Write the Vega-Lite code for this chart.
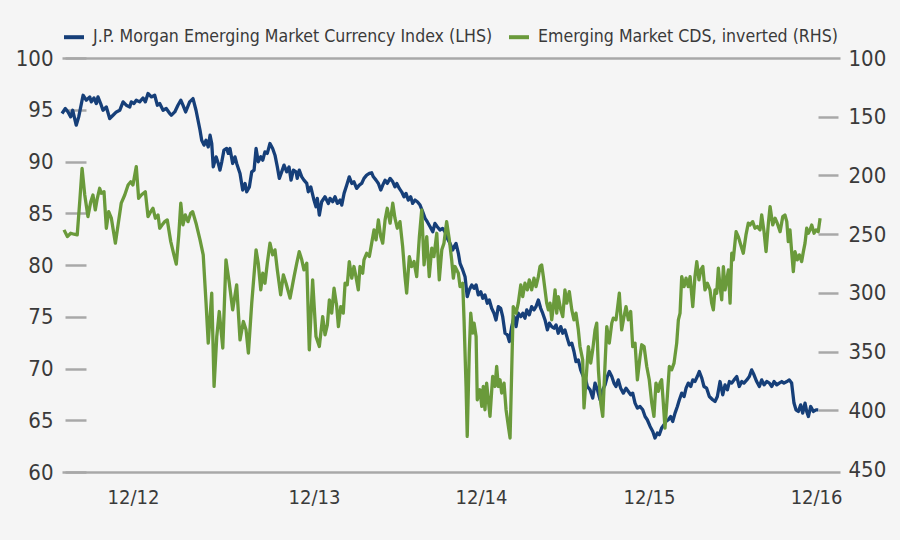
{
  "$schema": "https://vega.github.io/schema/vega-lite/v6.json",
  "width": 778,
  "height": 414,
  "autosize": {"type": "none"},
  "padding": {"left": 62, "top": 58, "right": 60, "bottom": 68},
  "background": "#f5f5f5",
  "config": {
    "view": {"stroke": null},
    "font": "DejaVu Sans Condensed, DejaVu Sans",
    "axis": {"labelFont": "DejaVu Sans Condensed, DejaVu Sans", "labelFontSize": 22, "labelColor": "#3a3a3a", "title": null},
    "legend": {"labelFont": "DejaVu Sans Condensed, DejaVu Sans"}
  },
  "datasets": {
    "jpm": [
      {"year":2012.411,"index":94.64},{"year":2012.431,"index":95.12},{"year":2012.447,"index":94.79},{"year":2012.463,"index":94.31},{"year":2012.475,"index":94.95},{"year":2012.496,"index":93.51},{"year":2012.511,"index":94.31},{"year":2012.537,"index":96.40},{"year":2012.556,"index":95.92},{"year":2012.577,"index":96.24},{"year":2012.586,"index":95.76},{"year":2012.602,"index":96.14},{"year":2012.616,"index":95.60},{"year":2012.626,"index":96.24},{"year":2012.642,"index":95.60},{"year":2012.656,"index":94.95},{"year":2012.676,"index":95.27},{"year":2012.696,"index":94.15},{"year":2012.716,"index":94.47},{"year":2012.736,"index":94.79},{"year":2012.756,"index":94.95},{"year":2012.776,"index":95.76},{"year":2012.795,"index":95.44},{"year":2012.816,"index":95.27},{"year":2012.825,"index":95.76},{"year":2012.841,"index":95.60},{"year":2012.855,"index":95.92},{"year":2012.875,"index":95.76},{"year":2012.895,"index":96.14},{"year":2012.909,"index":95.76},{"year":2012.925,"index":96.57},{"year":2012.945,"index":96.24},{"year":2012.965,"index":96.40},{"year":2012.981,"index":95.44},{"year":2012.995,"index":95.60},{"year":2013.015,"index":94.95},{"year":2013.034,"index":95.12},{"year":2013.055,"index":94.64},{"year":2013.064,"index":94.47},{"year":2013.085,"index":94.79},{"year":2013.104,"index":95.44},{"year":2013.121,"index":95.92},{"year":2013.134,"index":95.44},{"year":2013.150,"index":94.79},{"year":2013.174,"index":95.76},{"year":2013.194,"index":96.08},{"year":2013.212,"index":94.95},{"year":2013.236,"index":93.02},{"year":2013.246,"index":92.06},{"year":2013.260,"index":91.58},{"year":2013.272,"index":92.06},{"year":2013.285,"index":91.41},{"year":2013.296,"index":92.54},{"year":2013.306,"index":91.74},{"year":2013.315,"index":89.48},{"year":2013.332,"index":90.45},{"year":2013.345,"index":89.81},{"year":2013.355,"index":89.17},{"year":2013.366,"index":89.97},{"year":2013.379,"index":91.10},{"year":2013.395,"index":91.26},{"year":2013.405,"index":90.78},{"year":2013.415,"index":91.26},{"year":2013.431,"index":89.81},{"year":2013.445,"index":90.45},{"year":2013.455,"index":89.81},{"year":2013.475,"index":88.85},{"year":2013.491,"index":87.24},{"year":2013.505,"index":87.88},{"year":2013.515,"index":87.07},{"year":2013.531,"index":87.55},{"year":2013.545,"index":89.00},{"year":2013.559,"index":89.17},{"year":2013.571,"index":91.26},{"year":2013.584,"index":89.97},{"year":2013.599,"index":90.45},{"year":2013.611,"index":90.13},{"year":2013.624,"index":90.93},{"year":2013.638,"index":90.78},{"year":2013.654,"index":91.74},{"year":2013.670,"index":91.26},{"year":2013.684,"index":90.61},{"year":2013.698,"index":89.48},{"year":2013.710,"index":88.37},{"year":2013.724,"index":89.00},{"year":2013.738,"index":89.65},{"year":2013.754,"index":89.00},{"year":2013.768,"index":89.48},{"year":2013.780,"index":88.20},{"year":2013.794,"index":89.17},{"year":2013.810,"index":89.00},{"year":2013.817,"index":88.37},{"year":2013.829,"index":89.17},{"year":2013.844,"index":88.52},{"year":2013.857,"index":88.20},{"year":2013.874,"index":87.88},{"year":2013.883,"index":87.07},{"year":2013.898,"index":87.55},{"year":2013.917,"index":86.27},{"year":2013.929,"index":85.63},{"year":2013.937,"index":86.44},{"year":2013.949,"index":84.82},{"year":2013.963,"index":86.11},{"year":2013.983,"index":86.59},{"year":2014.003,"index":85.95},{"year":2014.013,"index":86.44},{"year":2014.029,"index":86.11},{"year":2014.043,"index":86.59},{"year":2014.057,"index":85.95},{"year":2014.073,"index":86.27},{"year":2014.083,"index":85.79},{"year":2014.097,"index":86.92},{"year":2014.113,"index":87.72},{"year":2014.128,"index":88.52},{"year":2014.143,"index":87.88},{"year":2014.156,"index":88.04},{"year":2014.172,"index":87.40},{"year":2014.188,"index":87.72},{"year":2014.202,"index":87.88},{"year":2014.216,"index":88.37},{"year":2014.232,"index":88.68},{"year":2014.248,"index":88.85},{"year":2014.262,"index":88.91},{"year":2014.272,"index":88.52},{"year":2014.288,"index":88.20},{"year":2014.302,"index":87.88},{"year":2014.316,"index":87.24},{"year":2014.328,"index":87.72},{"year":2014.342,"index":88.20},{"year":2014.355,"index":87.88},{"year":2014.372,"index":88.37},{"year":2014.388,"index":88.04},{"year":2014.401,"index":87.55},{"year":2014.412,"index":87.88},{"year":2014.427,"index":87.40},{"year":2014.441,"index":87.07},{"year":2014.455,"index":86.59},{"year":2014.467,"index":86.92},{"year":2014.481,"index":86.27},{"year":2014.495,"index":86.59},{"year":2014.507,"index":85.95},{"year":2014.521,"index":86.27},{"year":2014.535,"index":86.11},{"year":2014.551,"index":85.79},{"year":2014.567,"index":85.14},{"year":2014.581,"index":84.51},{"year":2014.594,"index":84.18},{"year":2014.611,"index":83.70},{"year":2014.627,"index":83.21},{"year":2014.640,"index":84.02},{"year":2014.654,"index":83.70},{"year":2014.670,"index":83.38},{"year":2014.686,"index":83.54},{"year":2014.700,"index":83.21},{"year":2014.714,"index":82.58},{"year":2014.730,"index":82.09},{"year":2014.746,"index":81.45},{"year":2014.760,"index":81.93},{"year":2014.766,"index":82.09},{"year":2014.780,"index":81.13},{"year":2014.790,"index":80.16},{"year":2014.806,"index":79.52},{"year":2014.820,"index":78.87},{"year":2014.833,"index":76.94},{"year":2014.845,"index":77.59},{"year":2014.860,"index":78.07},{"year":2014.874,"index":77.75},{"year":2014.886,"index":78.07},{"year":2014.899,"index":77.11},{"year":2014.914,"index":77.42},{"year":2014.926,"index":76.79},{"year":2014.939,"index":77.11},{"year":2014.953,"index":76.31},{"year":2014.965,"index":76.62},{"year":2014.979,"index":75.82},{"year":2014.993,"index":75.34},{"year":2015.005,"index":74.69},{"year":2015.019,"index":75.98},{"year":2015.033,"index":75.82},{"year":2015.045,"index":75.01},{"year":2015.059,"index":73.41},{"year":2015.073,"index":73.25},{"year":2015.085,"index":72.60},{"year":2015.099,"index":74.05},{"year":2015.113,"index":75.01},{"year":2015.125,"index":74.05},{"year":2015.138,"index":75.34},{"year":2015.153,"index":75.01},{"year":2015.165,"index":75.34},{"year":2015.178,"index":74.86},{"year":2015.189,"index":75.66},{"year":2015.204,"index":75.18},{"year":2015.218,"index":75.98},{"year":2015.232,"index":75.66},{"year":2015.244,"index":75.98},{"year":2015.258,"index":76.62},{"year":2015.272,"index":75.82},{"year":2015.284,"index":75.34},{"year":2015.298,"index":74.69},{"year":2015.312,"index":73.73},{"year":2015.324,"index":74.38},{"year":2015.338,"index":74.05},{"year":2015.352,"index":73.89},{"year":2015.364,"index":74.21},{"year":2015.377,"index":73.41},{"year":2015.392,"index":74.05},{"year":2015.404,"index":73.41},{"year":2015.417,"index":73.73},{"year":2015.431,"index":72.93},{"year":2015.443,"index":72.28},{"year":2015.458,"index":72.45},{"year":2015.471,"index":71.64},{"year":2015.483,"index":70.67},{"year":2015.497,"index":70.83},{"year":2015.511,"index":69.87},{"year":2015.527,"index":69.22},{"year":2015.537,"index":69.22},{"year":2015.551,"index":68.26},{"year":2015.567,"index":67.94},{"year":2015.583,"index":67.14},{"year":2015.597,"index":68.59},{"year":2015.611,"index":67.94},{"year":2015.627,"index":66.98},{"year":2015.643,"index":67.94},{"year":2015.657,"index":68.42},{"year":2015.670,"index":69.22},{"year":2015.682,"index":69.71},{"year":2015.697,"index":69.22},{"year":2015.710,"index":68.59},{"year":2015.722,"index":68.26},{"year":2015.736,"index":68.90},{"year":2015.750,"index":68.10},{"year":2015.766,"index":67.62},{"year":2015.782,"index":68.10},{"year":2015.796,"index":67.78},{"year":2015.810,"index":67.46},{"year":2015.822,"index":67.62},{"year":2015.836,"index":66.66},{"year":2015.850,"index":66.17},{"year":2015.866,"index":66.33},{"year":2015.882,"index":66.01},{"year":2015.896,"index":65.36},{"year":2015.909,"index":65.05},{"year":2015.926,"index":64.40},{"year":2015.942,"index":63.92},{"year":2015.955,"index":63.28},{"year":2015.969,"index":63.76},{"year":2015.981,"index":63.60},{"year":2015.995,"index":64.25},{"year":2016.009,"index":64.56},{"year":2016.021,"index":64.88},{"year":2016.035,"index":65.05},{"year":2016.049,"index":65.36},{"year":2016.061,"index":64.88},{"year":2016.075,"index":65.69},{"year":2016.089,"index":66.33},{"year":2016.101,"index":66.98},{"year":2016.115,"index":67.62},{"year":2016.129,"index":67.29},{"year":2016.141,"index":68.10},{"year":2016.154,"index":68.59},{"year":2016.169,"index":68.26},{"year":2016.181,"index":68.90},{"year":2016.194,"index":68.74},{"year":2016.208,"index":69.22},{"year":2016.220,"index":69.71},{"year":2016.235,"index":69.07},{"year":2016.248,"index":68.26},{"year":2016.264,"index":68.10},{"year":2016.280,"index":67.29},{"year":2016.300,"index":66.98},{"year":2016.314,"index":66.81},{"year":2016.328,"index":67.29},{"year":2016.344,"index":68.74},{"year":2016.360,"index":67.46},{"year":2016.374,"index":68.42},{"year":2016.388,"index":67.94},{"year":2016.400,"index":68.74},{"year":2016.414,"index":68.59},{"year":2016.428,"index":68.90},{"year":2016.444,"index":69.22},{"year":2016.459,"index":68.26},{"year":2016.474,"index":68.74},{"year":2016.487,"index":68.59},{"year":2016.504,"index":68.90},{"year":2016.519,"index":69.22},{"year":2016.533,"index":69.87},{"year":2016.547,"index":69.39},{"year":2016.563,"index":68.74},{"year":2016.579,"index":68.26},{"year":2016.593,"index":68.90},{"year":2016.607,"index":68.42},{"year":2016.623,"index":68.74},{"year":2016.639,"index":68.59},{"year":2016.653,"index":68.26},{"year":2016.667,"index":68.74},{"year":2016.683,"index":68.42},{"year":2016.698,"index":68.59},{"year":2016.713,"index":68.74},{"year":2016.726,"index":68.59},{"year":2016.743,"index":68.74},{"year":2016.758,"index":68.90},{"year":2016.772,"index":68.59},{"year":2016.786,"index":66.66},{"year":2016.798,"index":66.01},{"year":2016.812,"index":65.85},{"year":2016.826,"index":66.49},{"year":2016.838,"index":65.69},{"year":2016.852,"index":66.66},{"year":2016.862,"index":65.85},{"year":2016.872,"index":65.36},{"year":2016.886,"index":66.33},{"year":2016.902,"index":65.85},{"year":2016.918,"index":66.01},{"year":2016.931,"index":66.01}
    ],
    "cds": [
      {"year":2012.423,"cds":246.3},{"year":2012.443,"cds":252.0},{"year":2012.463,"cds":249.2},{"year":2012.483,"cds":250.0},{"year":2012.502,"cds":250.6},{"year":2012.517,"cds":222.3},{"year":2012.531,"cds":193.9},{"year":2012.547,"cds":216.6},{"year":2012.566,"cds":235.0},{"year":2012.583,"cds":222.3},{"year":2012.596,"cds":216.6},{"year":2012.610,"cds":229.3},{"year":2012.622,"cds":219.4},{"year":2012.636,"cds":210.9},{"year":2012.646,"cds":215.1},{"year":2012.662,"cds":213.8},{"year":2012.676,"cds":244.9},{"year":2012.690,"cds":230.8},{"year":2012.706,"cds":236.4},{"year":2012.730,"cds":257.6},{"year":2012.746,"cds":242.1},{"year":2012.765,"cds":223.6},{"year":2012.786,"cds":216.6},{"year":2012.806,"cds":208.1},{"year":2012.822,"cds":205.3},{"year":2012.835,"cds":208.1},{"year":2012.855,"cds":192.5},{"year":2012.869,"cds":219.4},{"year":2012.885,"cds":216.6},{"year":2012.909,"cds":213.8},{"year":2012.925,"cds":235.0},{"year":2012.941,"cds":230.8},{"year":2012.955,"cds":227.9},{"year":2012.969,"cds":236.4},{"year":2012.985,"cds":233.6},{"year":2012.995,"cds":244.9},{"year":2013.009,"cds":242.1},{"year":2013.025,"cds":239.3},{"year":2013.040,"cds":237.8},{"year":2013.061,"cds":256.3},{"year":2013.080,"cds":267.6},{"year":2013.094,"cds":275.5},{"year":2013.109,"cds":250.6},{"year":2013.121,"cds":223.6},{"year":2013.134,"cds":242.1},{"year":2013.148,"cds":233.6},{"year":2013.164,"cds":239.3},{"year":2013.180,"cds":232.1},{"year":2013.192,"cds":230.8},{"year":2013.212,"cds":240.6},{"year":2013.236,"cds":254.8},{"year":2013.255,"cds":267.6},{"year":2013.272,"cds":308.7},{"year":2013.285,"cds":342.7},{"year":2013.306,"cds":300.2},{"year":2013.320,"cds":379.6},{"year":2013.336,"cds":337.1},{"year":2013.351,"cds":315.8},{"year":2013.372,"cds":346.9},{"year":2013.391,"cds":271.8},{"year":2013.411,"cds":291.7},{"year":2013.431,"cds":314.4},{"year":2013.455,"cds":293.1},{"year":2013.475,"cds":339.9},{"year":2013.495,"cds":324.3},{"year":2013.511,"cds":331.4},{"year":2013.525,"cds":351.2},{"year":2013.545,"cds":308.7},{"year":2013.571,"cds":263.3},{"year":2013.584,"cds":274.7},{"year":2013.599,"cds":297.4},{"year":2013.611,"cds":283.2},{"year":2013.624,"cds":291.7},{"year":2013.638,"cds":274.7},{"year":2013.654,"cds":257.6},{"year":2013.670,"cds":267.6},{"year":2013.684,"cds":263.3},{"year":2013.698,"cds":280.4},{"year":2013.718,"cds":301.6},{"year":2013.734,"cds":284.6},{"year":2013.750,"cds":291.7},{"year":2013.774,"cds":304.4},{"year":2013.798,"cds":286.1},{"year":2013.814,"cds":274.7},{"year":2013.829,"cds":264.8},{"year":2013.844,"cds":271.8},{"year":2013.857,"cds":280.4},{"year":2013.874,"cds":274.7},{"year":2013.889,"cds":348.4},{"year":2013.909,"cds":288.9},{"year":2013.929,"cds":337.1},{"year":2013.949,"cds":345.6},{"year":2013.969,"cds":320.1},{"year":2013.983,"cds":335.6},{"year":2013.997,"cds":327.1},{"year":2014.009,"cds":305.9},{"year":2014.023,"cds":317.2},{"year":2014.037,"cds":295.9},{"year":2014.053,"cds":311.6},{"year":2014.063,"cds":328.6},{"year":2014.077,"cds":311.6},{"year":2014.092,"cds":317.2},{"year":2014.103,"cds":291.7},{"year":2014.116,"cds":293.1},{"year":2014.128,"cds":273.3},{"year":2014.143,"cds":287.4},{"year":2014.156,"cds":277.5},{"year":2014.168,"cds":286.1},{"year":2014.182,"cds":297.4},{"year":2014.192,"cds":277.5},{"year":2014.208,"cds":283.2},{"year":2014.216,"cds":271.8},{"year":2014.232,"cds":266.2},{"year":2014.248,"cds":269.0},{"year":2014.262,"cds":257.6},{"year":2014.276,"cds":246.3},{"year":2014.288,"cds":254.8},{"year":2014.302,"cds":237.8},{"year":2014.316,"cds":252.0},{"year":2014.328,"cds":257.6},{"year":2014.342,"cds":237.8},{"year":2014.355,"cds":227.9},{"year":2014.372,"cds":240.6},{"year":2014.388,"cds":223.6},{"year":2014.401,"cds":236.4},{"year":2014.415,"cds":244.9},{"year":2014.431,"cds":239.3},{"year":2014.447,"cds":260.5},{"year":2014.461,"cds":286.1},{"year":2014.471,"cds":300.2},{"year":2014.487,"cds":269.0},{"year":2014.501,"cds":277.5},{"year":2014.515,"cds":273.3},{"year":2014.531,"cds":286.1},{"year":2014.547,"cds":252.0},{"year":2014.561,"cds":229.3},{"year":2014.575,"cds":276.1},{"year":2014.591,"cds":252.0},{"year":2014.606,"cds":286.1},{"year":2014.621,"cds":261.9},{"year":2014.634,"cds":269.0},{"year":2014.651,"cds":249.2},{"year":2014.666,"cds":288.9},{"year":2014.681,"cds":263.3},{"year":2014.694,"cds":257.6},{"year":2014.710,"cds":239.3},{"year":2014.726,"cds":254.8},{"year":2014.740,"cds":271.8},{"year":2014.750,"cds":287.4},{"year":2014.760,"cds":277.5},{"year":2014.780,"cds":283.2},{"year":2014.790,"cds":294.6},{"year":2014.806,"cds":291.7},{"year":2014.814,"cds":322.9},{"year":2014.826,"cds":379.6},{"year":2014.833,"cds":422.1},{"year":2014.845,"cds":351.2},{"year":2014.854,"cds":317.2},{"year":2014.866,"cds":334.2},{"year":2014.874,"cds":325.7},{"year":2014.886,"cds":337.1},{"year":2014.893,"cds":390.9},{"year":2014.909,"cds":382.4},{"year":2014.920,"cds":396.6},{"year":2014.929,"cds":379.6},{"year":2014.939,"cds":399.4},{"year":2014.949,"cds":376.7},{"year":2014.959,"cds":390.9},{"year":2014.969,"cds":405.1},{"year":2014.985,"cds":371.1},{"year":2014.999,"cds":379.6},{"year":2015.009,"cds":362.6},{"year":2015.019,"cds":379.6},{"year":2015.029,"cds":373.9},{"year":2015.039,"cds":385.2},{"year":2015.053,"cds":376.7},{"year":2015.065,"cds":399.4},{"year":2015.079,"cds":413.6},{"year":2015.089,"cds":423.5},{"year":2015.099,"cds":365.4},{"year":2015.108,"cds":311.6},{"year":2015.125,"cds":317.2},{"year":2015.138,"cds":308.7},{"year":2015.153,"cds":293.1},{"year":2015.165,"cds":303.1},{"year":2015.178,"cds":291.7},{"year":2015.192,"cds":297.4},{"year":2015.204,"cds":288.9},{"year":2015.218,"cds":297.4},{"year":2015.232,"cds":287.4},{"year":2015.244,"cds":294.6},{"year":2015.258,"cds":286.1},{"year":2015.268,"cds":277.5},{"year":2015.278,"cds":276.1},{"year":2015.288,"cds":286.1},{"year":2015.298,"cds":297.4},{"year":2015.308,"cds":308.7},{"year":2015.318,"cds":314.4},{"year":2015.328,"cds":308.7},{"year":2015.338,"cds":322.9},{"year":2015.348,"cds":311.6},{"year":2015.358,"cds":297.4},{"year":2015.368,"cds":317.2},{"year":2015.377,"cds":303.1},{"year":2015.392,"cds":314.4},{"year":2015.404,"cds":320.1},{"year":2015.417,"cds":297.4},{"year":2015.428,"cds":308.7},{"year":2015.443,"cds":298.8},{"year":2015.458,"cds":314.4},{"year":2015.471,"cds":322.9},{"year":2015.483,"cds":317.2},{"year":2015.497,"cds":331.4},{"year":2015.507,"cds":345.6},{"year":2015.523,"cds":356.9},{"year":2015.531,"cds":397.9},{"year":2015.543,"cds":373.9},{"year":2015.557,"cds":345.6},{"year":2015.571,"cds":359.7},{"year":2015.583,"cds":348.4},{"year":2015.597,"cds":331.4},{"year":2015.607,"cds":325.7},{"year":2015.617,"cds":365.4},{"year":2015.631,"cds":393.7},{"year":2015.643,"cds":405.1},{"year":2015.657,"cds":359.7},{"year":2015.667,"cds":328.6},{"year":2015.682,"cds":342.7},{"year":2015.697,"cds":325.7},{"year":2015.706,"cds":321.4},{"year":2015.722,"cds":322.9},{"year":2015.730,"cds":314.4},{"year":2015.742,"cds":300.2},{"year":2015.756,"cds":331.4},{"year":2015.770,"cds":320.1},{"year":2015.782,"cds":311.6},{"year":2015.796,"cds":322.9},{"year":2015.810,"cds":315.8},{"year":2015.822,"cds":345.6},{"year":2015.836,"cds":342.7},{"year":2015.850,"cds":373.9},{"year":2015.866,"cds":354.1},{"year":2015.876,"cds":344.1},{"year":2015.890,"cds":345.6},{"year":2015.906,"cds":362.6},{"year":2015.921,"cds":373.9},{"year":2015.936,"cds":393.7},{"year":2015.949,"cds":405.1},{"year":2015.961,"cds":376.7},{"year":2015.975,"cds":383.8},{"year":2015.985,"cds":376.7},{"year":2015.995,"cds":373.9},{"year":2016.005,"cds":393.7},{"year":2016.015,"cds":415.0},{"year":2016.029,"cds":388.1},{"year":2016.041,"cds":362.6},{"year":2016.055,"cds":365.4},{"year":2016.069,"cds":359.7},{"year":2016.085,"cds":342.7},{"year":2016.095,"cds":322.9},{"year":2016.105,"cds":317.2},{"year":2016.115,"cds":286.1},{"year":2016.129,"cds":294.6},{"year":2016.141,"cds":287.4},{"year":2016.154,"cds":294.6},{"year":2016.165,"cds":286.1},{"year":2016.181,"cds":311.6},{"year":2016.194,"cds":286.1},{"year":2016.205,"cds":273.3},{"year":2016.218,"cds":288.9},{"year":2016.229,"cds":280.4},{"year":2016.241,"cds":277.5},{"year":2016.254,"cds":297.4},{"year":2016.268,"cds":291.7},{"year":2016.284,"cds":297.4},{"year":2016.294,"cds":308.7},{"year":2016.304,"cds":314.4},{"year":2016.314,"cds":297.4},{"year":2016.324,"cds":300.2},{"year":2016.334,"cds":278.9},{"year":2016.344,"cds":294.6},{"year":2016.354,"cds":305.9},{"year":2016.364,"cds":277.5},{"year":2016.374,"cds":297.4},{"year":2016.384,"cds":288.9},{"year":2016.394,"cds":280.4},{"year":2016.404,"cds":308.7},{"year":2016.414,"cds":266.2},{"year":2016.423,"cds":271.8},{"year":2016.440,"cds":247.8},{"year":2016.453,"cds":252.0},{"year":2016.468,"cds":259.1},{"year":2016.483,"cds":266.2},{"year":2016.499,"cds":250.6},{"year":2016.513,"cds":240.6},{"year":2016.523,"cds":242.1},{"year":2016.539,"cds":239.3},{"year":2016.553,"cds":244.9},{"year":2016.567,"cds":243.5},{"year":2016.583,"cds":246.3},{"year":2016.593,"cds":233.6},{"year":2016.607,"cds":247.8},{"year":2016.619,"cds":264.8},{"year":2016.633,"cds":240.6},{"year":2016.643,"cds":226.5},{"year":2016.659,"cds":242.1},{"year":2016.673,"cds":236.4},{"year":2016.686,"cds":240.6},{"year":2016.703,"cds":247.8},{"year":2016.719,"cds":235.0},{"year":2016.732,"cds":233.6},{"year":2016.743,"cds":239.3},{"year":2016.752,"cds":256.3},{"year":2016.762,"cds":246.3},{"year":2016.772,"cds":264.8},{"year":2016.782,"cds":281.8},{"year":2016.792,"cds":264.8},{"year":2016.806,"cds":271.8},{"year":2016.818,"cds":267.6},{"year":2016.832,"cds":273.3},{"year":2016.842,"cds":264.8},{"year":2016.852,"cds":257.6},{"year":2016.862,"cds":244.9},{"year":2016.872,"cds":249.2},{"year":2016.882,"cds":246.3},{"year":2016.892,"cds":242.1},{"year":2016.906,"cds":249.2},{"year":2016.918,"cds":246.3},{"year":2016.931,"cds":247.8},{"year":2016.942,"cds":236.4}
    ]
  },
  "layer": [
    {
      "data": {"name": "jpm"},
      "mark": {"type": "line", "strokeWidth": 3.3, "strokeJoin": "round", "color": "#163f79"},
      "encoding": {
        "x": {
          "field": "year", "type": "quantitative",
          "scale": {"domain": [2012.411, 2017.061], "nice": false, "zero": false},
          "axis": {
            "values": [2012.835, 2013.917, 2014.915, 2015.919, 2016.918],
            "labelExpr": "'12/' + substring(toString(floor(datum.value)), 2, 4)",
            "domain": false, "ticks": false, "grid": false, "labelPadding": 15, "labelFontSize": 20
          }
        },
        "y": {
          "field": "index", "type": "quantitative",
          "scale": {"domain": [60, 100], "nice": false, "zero": false},
          "axis": {
            "orient": "left",
            "values": [60, 65, 70, 75, 80, 85, 90, 95, 100],
            "domain": false,
            "offset": -3,
            "tickSize": -21, "tickWidth": 2.5, "tickColor": "#a8a8a8",
            "labelPadding": 33,
            "grid": true, "gridColor": "#a8a8a8", "gridWidth": 2.5,
            "gridOpacity": {"condition": {"test": "datum.value == 60 || datum.value == 100", "value": 1}, "value": 0}
          }
        },
        "color": {
          "datum": "J.P. Morgan Emerging Market Currency Index (LHS)",
          "type": "nominal",
          "scale": {
            "domain": ["J.P. Morgan Emerging Market Currency Index (LHS)", "Emerging Market CDS, inverted (RHS)"],
            "range": ["#163f79", "#6a9a3b"]
          },
          "legend": {
            "orient": "none", "legendX": 0, "legendY": -33, "direction": "horizontal",
            "title": null, "symbolType": "stroke", "symbolSize": 400, "symbolStrokeWidth": 4,
            "labelFontSize": 17.6, "labelColor": "#3a3a3a", "columnPadding": 8, "labelOffset": 7, "labelLimit": 700
          }
        }
      }
    },
    {
      "data": {"name": "cds"},
      "mark": {"type": "line", "strokeWidth": 3.3, "strokeJoin": "round", "color": "#6a9a3b"},
      "encoding": {
        "x": {"field": "year", "type": "quantitative"},
        "y": {
          "field": "cds", "type": "quantitative",
          "scale": {"domain": [100, 452.4], "reverse": true, "nice": false, "zero": false},
          "axis": {
            "orient": "right",
            "values": [100, 150, 200, 250, 300, 350, 400, 450],
            "domain": false,
            "offset": -2,
            "tickSize": -20, "tickWidth": 2.5, "tickColor": "#a8a8a8",
            "tickOpacity": {"condition": {"test": "datum.value == 100 || datum.value == 450", "value": 0}, "value": 1},
            "labelPadding": 30,
            "grid": false
          }
        },
        "color": {"datum": "Emerging Market CDS, inverted (RHS)", "type": "nominal"}
      }
    }
  ],
  "resolve": {"scale": {"y": "independent"}}
}
